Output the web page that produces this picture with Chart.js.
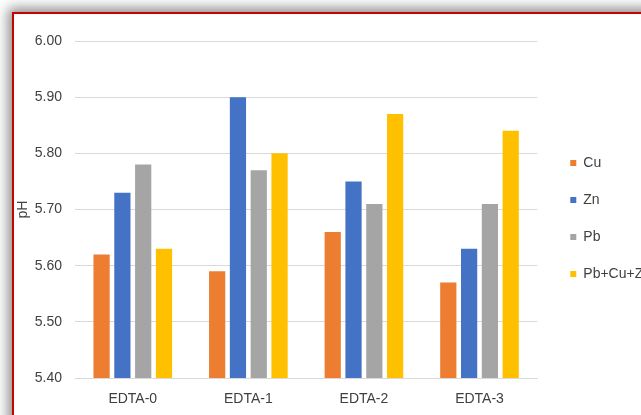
<!DOCTYPE html>
<html>
<head>
<meta charset="utf-8">
<script src="https://cdn.jsdelivr.net/npm/chart.js@4"></script>
<style>
  html, body { margin: 0; padding: 0; background: #fff; overflow: hidden; }
  #frame {
    position: absolute;
    left: 12px;
    top: 12px;
    width: 700px;
    height: 430px;
    border: 2px solid #c80000;
    box-shadow: 0 0 12px 4px rgba(0, 0, 0, 0.45);
    background: #fff;
  }
  #myChart { display: block; }
</style>
</head>
<body>
<div id="frame">
  <canvas id="myChart" width="640" height="410"></canvas>
</div>
<script>
// pH per EDTA dose, one series per metal
const labels = ['EDTA-0', 'EDTA-1', 'EDTA-2', 'EDTA-3'];
const cu = [5.62, 5.59, 5.66, 5.57];
const zn = [5.73, 5.90, 5.75, 5.63];
const pb = [5.78, 5.77, 5.71, 5.71];
const mix = [5.63, 5.80, 5.87, 5.84];

Chart.defaults.font.family = 'Liberation Sans, Arial, sans-serif';
Chart.defaults.font.size = 14;
Chart.defaults.color = '#404040';

// move the legend a bit right of the plot and a bit up
const legendNudge = {
    id: 'legendNudge',
    afterLayout(chart) {
        const lg = chart.legend;
        lg.left += 10;
        lg.right += 10;
        lg.top -= 14;
        lg.bottom -= 14;
    }
};

var ctx = document.getElementById('myChart').getContext('2d');
const data = {
    labels: labels,
    datasets: [
        { label: 'Cu', data: cu, backgroundColor: 'rgb(237, 125, 49)' },
        { label: 'Zn', data: zn, backgroundColor: 'rgb(68, 114, 196)' },
        { label: 'Pb', data: pb, backgroundColor: 'rgb(165, 165, 165)' },
        { label: 'Pb+Cu+Zn', data: mix, backgroundColor: 'rgb(255, 192, 0)' }
    ]
};
var myChart = new Chart(ctx, {
    type: 'bar',
    data: data,
    plugins: [legendNudge],
    options: {
        responsive: false,
        animation: false,
        datasets: {
            bar: { categoryPercentage: 0.72, barPercentage: 0.78, borderWidth: 0 }
        },
        layout: { padding: { left: 0, top: 27, right: 3, bottom: 0 } },
        plugins: {
            tooltip: { enabled: false },
            legend: {
                position: 'right',
                align: 'center',
                labels: { boxWidth: 6, boxHeight: 6, padding: 23, font: { size: 14 }, color: '#404040' }
            }
        },
        scales: {
            x: {
                grid: { display: false, drawTicks: false },
                border: { color: '#d9d9d9' },
                ticks: { padding: 13, font: { size: 14 } },
                afterFit(scale) { scale.height = 46; }
            },
            y: {
                min: 5.4,
                max: 6.0,
                ticks: {
                    stepSize: 0.1,
                    padding: 13,
                    font: { size: 14 },
                    callback: v => v.toFixed(2)
                },
                grid: { color: '#d9d9d9', drawTicks: false },
                border: { display: false },
                title: { display: true, text: 'pH', font: { size: 14 }, padding: { top: 1, bottom: 0 } },
                afterFit(scale) { scale.width = 61; }
            }
        }
    }
});
</script>
</body>
</html>
